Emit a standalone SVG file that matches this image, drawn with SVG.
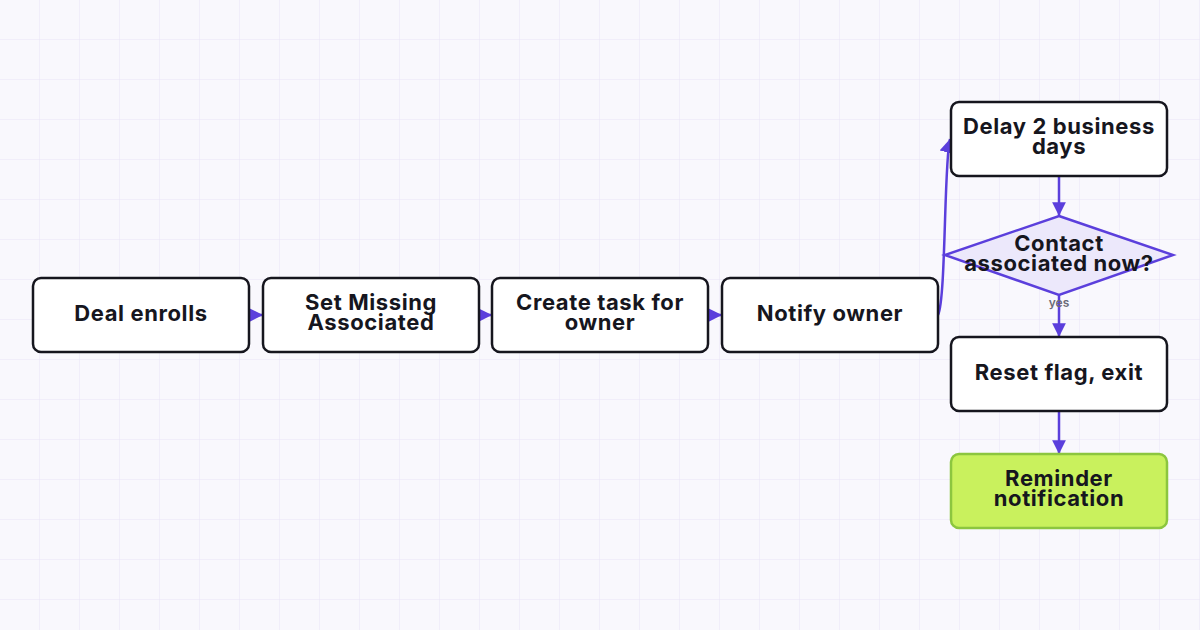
<svg xmlns="http://www.w3.org/2000/svg" width="1200" height="630" viewBox="0 0 1200 630">
<defs>
<pattern id="g" width="40" height="40" patternUnits="userSpaceOnUse"><path d="M40 0V40M0 40H40" fill="none" stroke="#e8e5f7" stroke-width="1"/></pattern>
<marker id="a" viewBox="0 0 10 10" refX="10" refY="5" markerWidth="5.5" markerHeight="5.5" orient="auto"><path d="M0 0L10 5L0 10Z" fill="#5b3fdc"/></marker>
</defs>
<style>
.n{fill:#fff;stroke:#16161e;stroke-width:2.5}
.t{font-family:Inter,"Liberation Sans",sans-serif;font-weight:700;font-size:22px;letter-spacing:0.6px;fill:#16161e;text-anchor:middle}
.c{fill:none;stroke:#5b3fdc;stroke-width:2.5;marker-end:url(#a)}
</style>
<rect width="1200" height="630" fill="#f9f8fd"/>
<rect width="1200" height="630" fill="url(#g)"/>
<g id="connectors">
<path class="c" d="M249 315H263"/>
<path class="c" d="M479 315H492"/>
<path class="c" d="M708 315H722"/>
<path class="c" d="M938 315C946 300 944 160 950 139"/>
<path class="c" d="M1059 176V216"/>
<path class="c" d="M1059 295V337"/>
<path class="c" d="M1059 411V454"/>
<text x="1059" y="307" font-family="Inter,'Liberation Sans',sans-serif" font-size="12" font-weight="600" fill="#6b6b78" text-anchor="middle">yes</text>
</g>
<g id="n1"><rect class="n" x="33" y="278" width="216" height="74" rx="8"/><text class="t" x="141" y="321">Deal enrolls</text></g>
<g id="n2"><rect class="n" x="263" y="278" width="216" height="74" rx="8"/><text class="t" x="371" y="310">Set Missing</text><text class="t" x="371" y="330">Associated</text></g>
<g id="n3"><rect class="n" x="492" y="278" width="216" height="74" rx="8"/><text class="t" x="600" y="310">Create task for</text><text class="t" x="600" y="330">owner</text></g>
<g id="n4"><rect class="n" x="722" y="278" width="216" height="74" rx="8"/><text class="t" x="830" y="321">Notify owner</text></g>
<g id="n5"><rect class="n" x="951" y="102" width="216" height="74" rx="8"/><text class="t" x="1059" y="134">Delay 2 business</text><text class="t" x="1059" y="154">days</text></g>
<g id="n6"><path d="M1059 216L1173 255L1059 295L945 255Z" fill="#ece8fb" stroke="#5b3fdc" stroke-width="2.5"/><text class="t" x="1059" y="251">Contact</text><text class="t" x="1059" y="271">associated now?</text></g>
<g id="n7"><rect class="n" x="951" y="337" width="216" height="74" rx="8"/><text class="t" x="1059" y="380">Reset flag, exit</text></g>
<g id="n8"><rect x="951" y="454" width="216" height="74" rx="8" fill="#c9f15d" stroke="#8cc63f" stroke-width="2.5"/><text class="t" x="1059" y="486">Reminder</text><text class="t" x="1059" y="506">notification</text></g>
</svg>
